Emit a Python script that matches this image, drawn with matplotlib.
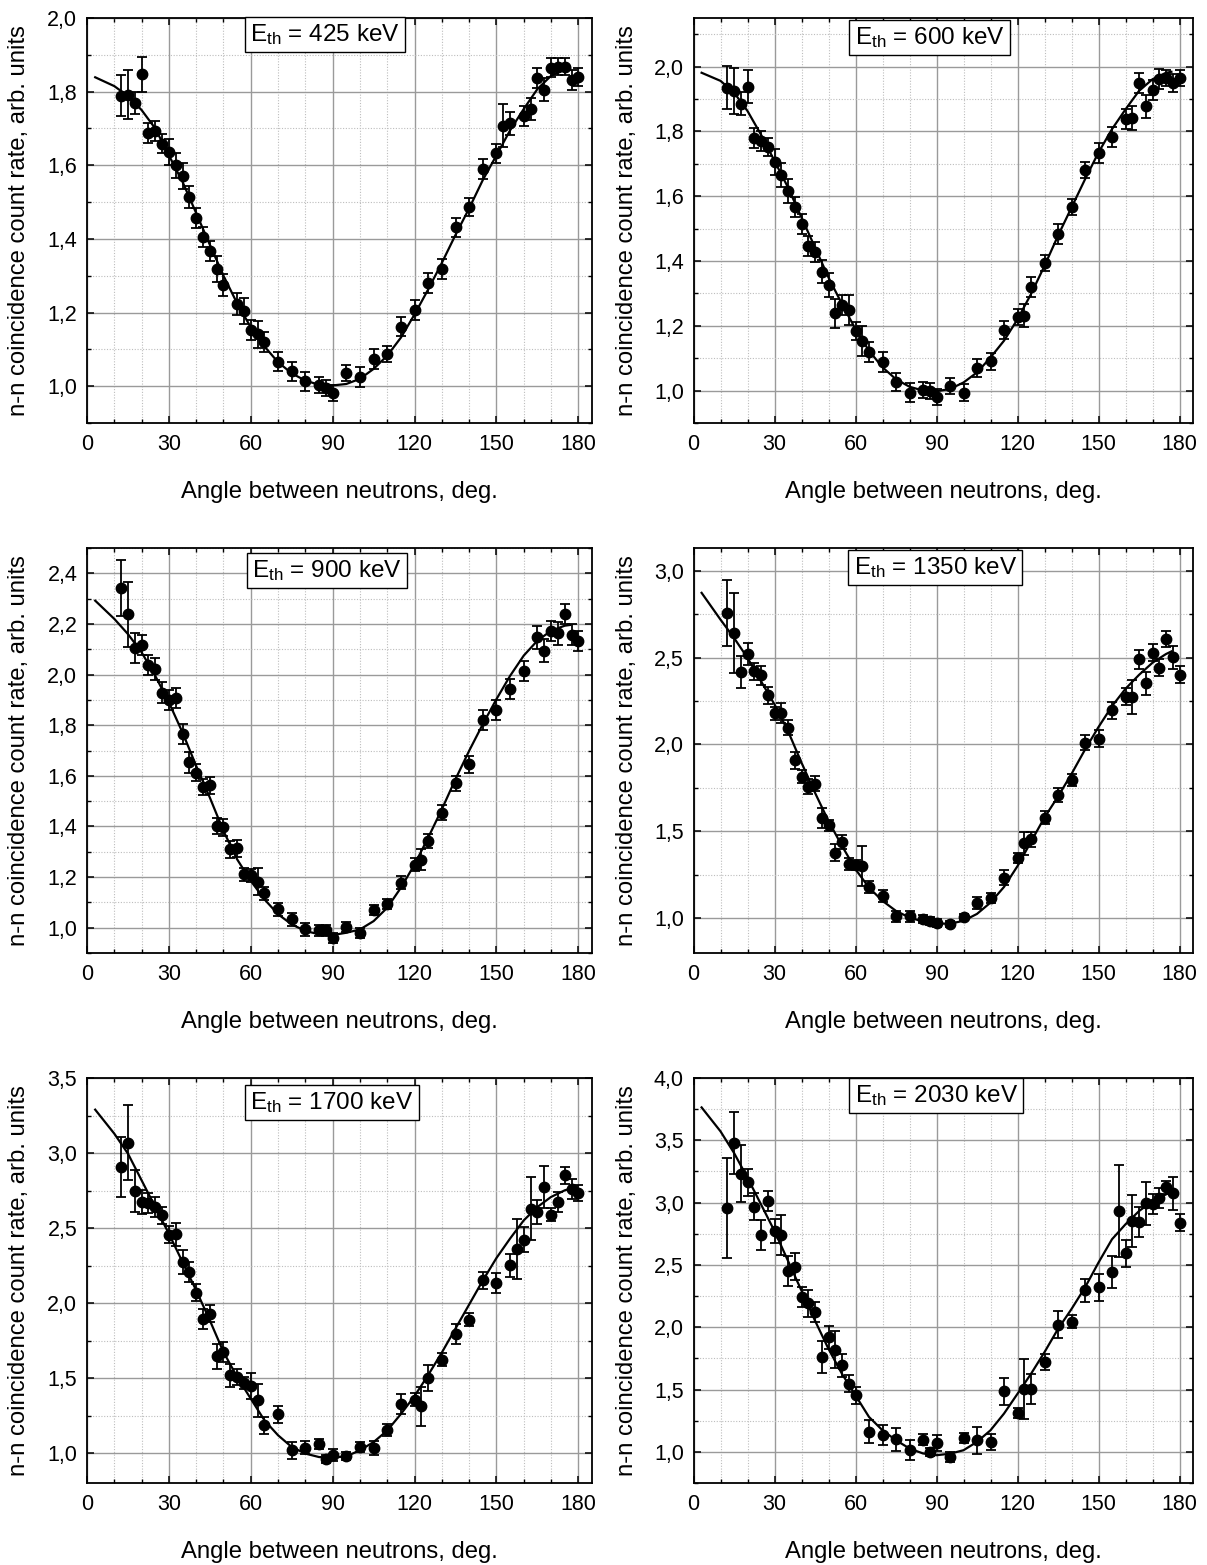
import matplotlib
matplotlib.use("Agg")
import matplotlib.pyplot as plt
from matplotlib.ticker import MultipleLocator, FuncFormatter

plt.rcParams['font.family'] = ['Liberation Sans', 'DejaVu Sans']
plt.rcParams['mathtext.fontset'] = 'custom'
plt.rcParams['mathtext.rm'] = 'Liberation Sans'
plt.rcParams['mathtext.it'] = 'Liberation Sans:italic'

# ---------------- data ----------------
energies = ["425", "600", "900", "1350", "1700", "2030"]

ang_1 = [12.5, 15, 17.5, 20, 22.5, 25, 27.5, 30, 32.5, 35, 37.5, 40, 42.5, 45, 47.5, 50, 55, 57.5, 60, 62.5,
         65, 70, 75, 80, 85, 87.5, 90, 95, 100, 105, 110, 115, 120, 125, 130, 135, 140, 145, 150, 152.5,
         155, 160, 162.5, 165, 167.5, 170, 172.5, 175, 177.5, 180]
val_1 = [1.789, 1.792, 1.768, 1.847, 1.687, 1.692, 1.659, 1.636, 1.600, 1.571, 1.514, 1.456, 1.404, 1.368, 1.318,
         1.276, 1.224, 1.204, 1.152, 1.141, 1.119, 1.067, 1.040, 1.013, 1.004, 0.995, 0.981, 1.036, 1.024, 1.074,
         1.087, 1.162, 1.206, 1.280, 1.319, 1.431, 1.486, 1.591, 1.632, 1.708, 1.714, 1.735, 1.753, 1.836, 1.805,
         1.865, 1.868, 1.868, 1.831, 1.840]
err_1 = [0.055, 0.066, 0.03, 0.047, 0.027, 0.027, 0.025, 0.034, 0.034, 0.036, 0.03, 0.027, 0.027, 0.027, 0.036,
         0.03, 0.03, 0.036, 0.027, 0.036, 0.027, 0.027, 0.027, 0.025, 0.022, 0.022, 0.022, 0.022, 0.027, 0.027,
         0.022, 0.027, 0.027, 0.027, 0.027, 0.027, 0.025, 0.027, 0.027, 0.058, 0.031, 0.027, 0.031, 0.027, 0.031,
         0.025, 0.022, 0.022, 0.027, 0.025]

ang_2 = [12.5, 15, 17.5, 20, 22.5, 25, 27.5, 30, 32.5, 35, 37.5, 40, 42.5, 45, 47.5, 50, 52.5, 55, 57.5, 60,
         62.5, 65, 70, 75, 80, 85, 87.5, 90, 95, 100, 105, 110, 115, 120, 122.5, 125, 130, 135, 140, 145,
         150, 155, 160, 162.5, 165, 167.5, 170, 172.5, 175, 177.5, 180]
val_2 = [1.935, 1.925, 1.886, 1.938, 1.779, 1.769, 1.753, 1.706, 1.665, 1.616, 1.567, 1.514, 1.447, 1.428, 1.367,
         1.326, 1.238, 1.264, 1.249, 1.185, 1.154, 1.120, 1.089, 1.027, 0.994, 1.003, 0.999, 0.981, 1.015, 0.994,
         1.069, 1.090, 1.187, 1.228, 1.231, 1.320, 1.395, 1.483, 1.567, 1.681, 1.732, 1.783, 1.837, 1.841, 1.949,
         1.877, 1.928, 1.963, 1.966, 1.949, 1.966]
err_2 = [0.067, 0.072, 0.036, 0.05, 0.031, 0.031, 0.028, 0.04, 0.036, 0.036, 0.031, 0.031, 0.031, 0.031, 0.036,
         0.036, 0.046, 0.031, 0.046, 0.028, 0.046, 0.031, 0.031, 0.028, 0.028, 0.025, 0.025, 0.025, 0.025, 0.025,
         0.028, 0.025, 0.028, 0.025, 0.036, 0.031, 0.025, 0.031, 0.025, 0.025, 0.031, 0.031, 0.031, 0.036, 0.031,
         0.036, 0.031, 0.031, 0.025, 0.028, 0.025]

ang_3 = [12.5, 15, 17.5, 20, 22.5, 25, 27.5, 30, 32.5, 35, 37.5, 40, 42.5, 45, 47.5, 50, 52.5, 55, 57.5, 60,
         62.5, 65, 70, 75, 80, 85, 87.5, 90, 95, 100, 105, 110, 115, 120, 122.5, 125, 130, 135, 140, 145,
         150, 155, 160, 165, 167.5, 170, 172.5, 175, 177.5, 180]
val_3 = [2.341, 2.238, 2.105, 2.117, 2.039, 2.022, 1.929, 1.899, 1.907, 1.765, 1.653, 1.613, 1.556, 1.563, 1.402,
         1.396, 1.310, 1.314, 1.211, 1.207, 1.181, 1.136, 1.073, 1.033, 0.993, 0.989, 0.989, 0.960, 1.003, 0.980,
         1.070, 1.092, 1.178, 1.248, 1.268, 1.343, 1.455, 1.570, 1.646, 1.820, 1.861, 1.943, 2.013, 2.147, 2.094,
         2.171, 2.163, 2.239, 2.158, 2.134]
err_3 = [0.11, 0.128, 0.06, 0.04, 0.04, 0.044, 0.04, 0.04, 0.04, 0.04, 0.04, 0.033, 0.033, 0.033, 0.033,
         0.033, 0.033, 0.033, 0.026, 0.026, 0.053, 0.026, 0.026, 0.026, 0.024, 0.02, 0.02, 0.02, 0.02, 0.02,
         0.02, 0.02, 0.026, 0.026, 0.042, 0.029, 0.029, 0.029, 0.033, 0.04, 0.04, 0.04, 0.04, 0.046, 0.046,
         0.04, 0.046, 0.04, 0.04, 0.04]

ang_4 = [12.5, 15, 17.5, 20, 22.5, 25, 27.5, 30, 32.5, 35, 37.5, 40, 42.5, 45, 47.5, 50, 52.5, 55, 57.5, 60,
         62.5, 65, 70, 75, 80, 85, 87.5, 90, 95, 100, 105, 110, 115, 120, 122.5, 125, 130, 135, 140, 145,
         150, 155, 160, 162.5, 165, 167.5, 170, 172.5, 175, 177.5, 180]
val_4 = [2.757, 2.642, 2.418, 2.521, 2.421, 2.397, 2.282, 2.178, 2.182, 2.096, 1.908, 1.814, 1.757, 1.774, 1.579,
         1.534, 1.377, 1.439, 1.310, 1.307, 1.301, 1.182, 1.128, 1.010, 1.010, 0.998, 0.985, 0.975, 0.966, 1.008,
         1.086, 1.119, 1.234, 1.345, 1.431, 1.454, 1.579, 1.709, 1.793, 2.010, 2.034, 2.197, 2.274, 2.272, 2.489,
         2.351, 2.527, 2.441, 2.607, 2.502, 2.402]
err_4 = [0.19, 0.23, 0.092, 0.063, 0.048, 0.057, 0.048, 0.038, 0.057, 0.042, 0.048, 0.038, 0.042, 0.042, 0.057,
         0.034, 0.048, 0.038, 0.034, 0.029, 0.115, 0.034, 0.034, 0.029, 0.029, 0.023, 0.023, 0.023, 0.019, 0.019,
         0.034, 0.029, 0.042, 0.029, 0.067, 0.042, 0.038, 0.042, 0.034, 0.042, 0.048, 0.048, 0.048, 0.096, 0.057,
         0.067, 0.048, 0.048, 0.048, 0.067, 0.048]

ang_5 = [12.5, 15, 17.5, 20, 22.5, 25, 27.5, 30, 32.5, 35, 37.5, 40, 42.5, 45, 47.5, 50, 52.5, 55, 57.5, 60,
         62.5, 65, 70, 75, 80, 85, 87.5, 90, 95, 100, 105, 110, 115, 120, 122.5, 125, 130, 135, 140, 145,
         150, 155, 157.5, 160, 162.5, 165, 167.5, 170, 172.5, 175, 177.5, 180]
val_5 = [2.907, 3.067, 2.747, 2.673, 2.667, 2.64, 2.584, 2.456, 2.458, 2.273, 2.207, 2.069, 1.896, 1.929, 1.644,
         1.673, 1.518, 1.507, 1.467, 1.447, 1.351, 1.184, 1.258, 1.018, 1.036, 1.058, 0.962, 0.984, 0.978, 1.04,
         1.033, 1.156, 1.329, 1.356, 1.311, 1.5, 1.622, 1.796, 1.889, 2.151, 2.136, 2.251, 2.358, 2.422, 2.629,
         2.607, 2.773, 2.589, 2.673, 2.851, 2.762, 2.733]
err_5 = [0.2, 0.25, 0.14, 0.078, 0.067, 0.067, 0.056, 0.056, 0.078, 0.078, 0.067, 0.056, 0.067, 0.056, 0.084,
         0.067, 0.078, 0.056, 0.04, 0.089, 0.11, 0.056, 0.056, 0.056, 0.044, 0.033, 0.027, 0.04, 0.027, 0.033,
         0.049, 0.04, 0.067, 0.044, 0.13, 0.084, 0.044, 0.067, 0.044, 0.056, 0.067, 0.078, 0.2, 0.084, 0.21,
         0.078, 0.14, 0.044, 0.067, 0.056, 0.067, 0.056]

ang_6 = [12.5, 15, 17.5, 20, 22.5, 25, 27.5, 30, 32.5, 35, 37.5, 40, 42.5, 45, 47.5, 50, 52.5, 55, 57.5, 60,
         65, 70, 75, 80, 85, 87.5, 90, 95, 100, 105, 110, 115, 120, 122.5, 125, 130, 135, 140, 145, 150,
         155, 157.5, 160, 162.5, 165, 167.5, 170, 172.5, 175, 177.5, 180]
val_6 = [2.959, 3.479, 3.233, 3.164, 2.967, 2.738, 3.012, 2.772, 2.738, 2.453, 2.485, 2.245, 2.191, 2.125, 1.76,
         1.92, 1.821, 1.693, 1.546, 1.453, 1.16, 1.133, 1.101, 1.013, 1.099, 0.995, 1.072, 0.96, 1.115, 1.093,
         1.08, 1.485, 1.312, 1.506, 1.506, 1.72, 2.021, 2.045, 2.298, 2.319, 2.445, 2.932, 2.594, 2.852, 2.844,
         2.994, 2.986, 3.034, 3.124, 3.074, 2.839]
err_6 = [0.4, 0.25, 0.23, 0.107, 0.107, 0.12, 0.08, 0.093, 0.16, 0.12, 0.107, 0.08, 0.107, 0.08, 0.13,
         0.093, 0.147, 0.093, 0.067, 0.067, 0.093, 0.08, 0.093, 0.08, 0.048, 0.032, 0.067, 0.04, 0.04, 0.107,
         0.067, 0.107, 0.04, 0.24, 0.12, 0.067, 0.107, 0.053, 0.093, 0.107, 0.13, 0.37, 0.107, 0.21, 0.12,
         0.17, 0.08, 0.08, 0.053, 0.13, 0.067]

# fit curves
fit_ang = [3, 10, 15, 20, 25, 30, 35, 40, 45, 50, 55, 60, 65, 70, 75, 80, 85, 90, 95, 100, 105, 110,
           115, 120, 125, 130, 135, 140, 145, 150, 155, 160, 165, 170, 175, 177]
fit_1 = [1.839, 1.815, 1.788, 1.750, 1.700, 1.627, 1.555, 1.470, 1.384, 1.300, 1.225, 1.160, 1.108, 1.065, 1.035,
         1.015, 1.004, 1.002, 1.006, 1.020, 1.047, 1.083, 1.132, 1.195, 1.263, 1.335, 1.411, 1.483, 1.560, 1.627,
         1.695, 1.753, 1.807, 1.843, 1.861, 1.863]
fit_2 = [1.981, 1.956, 1.920, 1.863, 1.790, 1.709, 1.627, 1.534, 1.442, 1.349, 1.267, 1.190, 1.123, 1.072, 1.035,
         1.012, 1.000, 0.998, 1.005, 1.025, 1.056, 1.102, 1.154, 1.220, 1.298, 1.385, 1.478, 1.565, 1.652, 1.735,
         1.807, 1.868, 1.925, 1.961, 1.981, 1.984]
fit_3 = [2.292, 2.220, 2.160, 2.088, 1.995, 1.890, 1.771, 1.639, 1.514, 1.382, 1.270, 1.185, 1.112, 1.053, 1.013,
         0.987, 0.974, 0.971, 0.980, 0.993, 1.026, 1.079, 1.158, 1.250, 1.356, 1.468, 1.587, 1.699, 1.804, 1.903,
         1.995, 2.075, 2.134, 2.173, 2.193, 2.196]
fit_4 = [2.872, 2.718, 2.613, 2.498, 2.364, 2.230, 2.077, 1.895, 1.722, 1.559, 1.416, 1.282, 1.176, 1.100, 1.042,
         1.004, 0.981, 0.969, 0.969, 0.985, 1.025, 1.090, 1.180, 1.300, 1.440, 1.580, 1.700, 1.830, 1.970, 2.100,
         2.220, 2.320, 2.400, 2.470, 2.520, 2.535]
fit_5 = [3.289, 3.129, 2.996, 2.818, 2.640, 2.462, 2.273, 2.084, 1.884, 1.673, 1.507, 1.362, 1.218, 1.118, 1.040,
         0.996, 0.973, 0.969, 0.978, 1.018, 1.073, 1.150, 1.260, 1.380, 1.520, 1.670, 1.830, 1.990, 2.150, 2.300,
         2.430, 2.551, 2.640, 2.707, 2.751, 2.762]
fit_6 = [3.764, 3.572, 3.399, 3.199, 2.986, 2.772, 2.533, 2.293, 2.053, 1.826, 1.626, 1.453, 1.280, 1.173, 1.093,
         1.027, 0.987, 0.973, 0.985, 1.013, 1.080, 1.173, 1.307, 1.466, 1.626, 1.800, 1.986, 2.146, 2.319, 2.519,
         2.706, 2.826, 2.932, 3.012, 3.066, 3.087]

x_ticks = [0, 30, 60, 90, 120, 150, 180]

panels = [
    (ang_1, val_1, err_1, fit_1),
    (ang_2, val_2, err_2, fit_2),
    (ang_3, val_3, err_3, fit_3),
    (ang_4, val_4, err_4, fit_4),
    (ang_5, val_5, err_5, fit_5),
    (ang_6, val_6, err_6, fit_6),
]

# ---------------- layout / style ----------------
W, H = 1207, 1565
fig = plt.figure(figsize=(W / 100, H / 100), dpi=100)

col_px = [(87, 505), (693.5, 499.5)]
row_px = [(18, 423), (548, 953), (1078, 1483)]
ylims = [(0.9, 2.0), (0.9, 2.15), (0.9, 2.5), (0.8, 3.13), (0.8, 3.5), (0.75, 4.0)]
ymaj = [0.2, 0.2, 0.2, 0.5, 0.5, 0.5]
box_pos = [(0.323, 0.99), (0.323, 0.983), (0.327, 0.975), (0.321, 0.983), (0.323, 0.97), (0.323, 0.988)]

comma = FuncFormatter(lambda v, p: f"{v:.1f}".replace('.', ','))

for i, (ang, val, err, fit) in enumerate(panels):
    r, c = divmod(i, 2)
    left, width = col_px[c]
    top, bottom = row_px[r]
    ax = fig.add_axes([left / W, 1 - bottom / H, width / W, (bottom - top) / H])

    ax.set_xlim(0, 185)
    ax.set_ylim(*ylims[i])
    ax.xaxis.set_major_locator(MultipleLocator(30))
    ax.xaxis.set_minor_locator(MultipleLocator(10))
    ax.yaxis.set_major_locator(MultipleLocator(ymaj[i]))
    ax.yaxis.set_minor_locator(MultipleLocator(ymaj[i] / 2))
    ax.yaxis.set_major_formatter(comma)
    ax.set_xticks(x_ticks)

    ax.grid(which='major', color='#9a9a9a', lw=1.0, ls='-')
    ax.grid(which='minor', color='#bdbdbd', lw=0.8, ls=(0, (1, 1.5)))
    ax.set_axisbelow(True)

    ax.tick_params(which='both', direction='in', top=True, right=True, labelsize=15.5)
    ax.tick_params(axis='x', which='both', pad=8)
    ax.tick_params(axis='y', which='both', pad=7)
    ax.tick_params(which='major', length=5, width=1.1)
    ax.tick_params(which='minor', length=3, width=1.0)
    for s in ax.spines.values():
        s.set_linewidth(1.3)

    ax.plot(fit_ang, fit, color='black', lw=1.6, zorder=3)
    ax.errorbar(ang, val, yerr=err, fmt='o', color='black', ms=7.5, capsize=3.8,
                elinewidth=1.3, capthick=1.3, zorder=4)

    ax.set_xlabel("Angle between neutrons, deg.", fontsize=17.2)
    ax.set_ylabel("n-n coincidence count rate, arb. units", fontsize=17.2)
    ax.xaxis.set_label_coords(0.5, -0.143)
    ax.yaxis.set_label_coords(-0.112, 0.5)

    bx, by = box_pos[i]
    ax.text(bx, by, r"E$_{\mathrm{th}}$ = " + energies[i] + " keV", transform=ax.transAxes,
            ha='left', va='top', fontsize=17.5, zorder=6,
            bbox=dict(boxstyle='square,pad=0.22', fc='white', ec='black', lw=1.0))

fig.savefig("out.png", dpi=100)
